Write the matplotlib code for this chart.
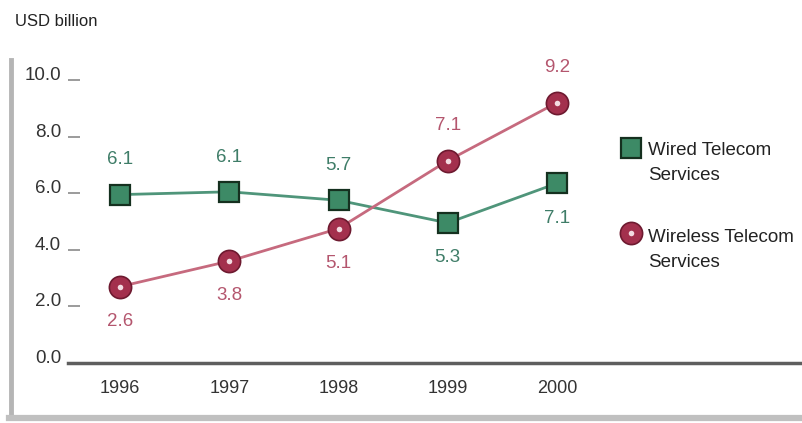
import matplotlib.pyplot as plt
from matplotlib.lines import Line2D

plt.rcParams['font.family'] = ['Liberation Sans', 'DejaVu Sans']

# Datos
years = ["1996", "1997", "1998", "1999", "2000"]
wired = [5.95, 6.05, 5.75, 4.95, 6.35]
wireless = [2.7, 3.6, 4.75, 7.15, 9.2]
wired_labels = ["6.1", "6.1", "5.7", "5.3", "7.1"]
wireless_labels = ["2.6", "3.8", "5.1", "7.1", "9.2"]
wired_above = [True, True, True, False, False]
wireless_above = [False, False, False, True, True]
yticks = [0, 2, 4, 6, 8, 10]

green = "#3d8a66"
green_line = "#4f957a"
green_text = "#3f7d68"
red = "#a3304d"
red_line = "#c66a7e"
red_text = "#b4566e"

W, H = 802, 423
fig = plt.figure(figsize=(W / 100, H / 100), dpi=100)
ax = fig.add_axes([68 / W, (H - 363) / H, (800 - 68) / W, (363 - 80) / H])

x = list(range(len(years)))

# Series
ax.plot(x, wired, color=green_line, lw=2, zorder=2)
ax.plot(x, wireless, color=red_line, lw=2, zorder=2)
ax.plot(x, wired, 's', ms=15, mfc=green, mec="#15301f", mew=1.6, zorder=3)
ax.plot(x, wireless, 'o', ms=16, mfc=red, mec="#6e1a30", mew=1.2, zorder=3)
ax.plot(x, wireless, 'o', ms=4, mfc="#f3dce2", mec="none", zorder=4)

for xi, v, lab, up in zip(x, wired, wired_labels, wired_above):
    ax.annotate(lab, (xi, v), xytext=(0, 25 if up else -25), textcoords="offset points",
                ha="center", va="center", fontsize=13.5, color=green_text)
for xi, v, lab, up in zip(x, wireless, wireless_labels, wireless_above):
    ax.annotate(lab, (xi, v), xytext=(0, 25 if up else -25), textcoords="offset points",
                ha="center", va="center", fontsize=13.5, color=red_text)

# Ejes
ax.set_xlim(-(120 - 68) / 109.25, 4 + (800 - 557) / 109.25)
ax.set_ylim(0, 10)
ax.set_xticks(x)
ax.set_xticklabels(years, fontsize=13, color="#333333")
ax.set_yticks(yticks)
ax.set_yticklabels([f"{t:.1f}" for t in yticks], fontsize=13.5, color="#333333")
for lbl in ax.get_yticklabels():
    lbl.set_va("baseline")
ax.tick_params(axis="x", length=0, pad=12)
ax.tick_params(axis="y", direction="in", length=8.5, width=1.2, color="#8a8a8a", pad=5)
for s in ["top", "right", "left"]:
    ax.spines[s].set_visible(False)
ax.spines["bottom"].set_color("#5e5e5e")
ax.spines["bottom"].set_linewidth(2.5)
ax.patch.set_alpha(0)

# Leyenda
ax.plot([0.769], [0.760], 's', ms=14, mfc=green, mec="#15301f", mew=1.6,
        transform=ax.transAxes, clip_on=False)
ax.plot([0.769], [0.459], 'o', ms=16, mfc=red, mec="#6e1a30", mew=1.2,
        transform=ax.transAxes, clip_on=False)
ax.plot([0.769], [0.459], 'o', ms=4, mfc="#f3dce2", mec="none",
        transform=ax.transAxes, clip_on=False)
ax.text(0.792, 0.706, "Wired Telecom\nServices", transform=ax.transAxes,
        fontsize=13.5, va="center", ha="left", color="#222222", linespacing=1.65)
ax.text(0.792, 0.399, "Wireless Telecom\nServices", transform=ax.transAxes,
        fontsize=13.5, va="center", ha="left", color="#222222", linespacing=1.65)

# Marco
fig.add_artist(Line2D([10.5 / W, 10.5 / W], [(H - 60) / H, (H - 418) / H],
                      color="#b5b5b5", lw=3.5))
fig.add_artist(Line2D([9 / W, 800 / W], [(H - 418) / H, (H - 418) / H],
                      color="#c0c0c0", lw=4.5))

fig.text(15 / W, (H - 22) / H, "USD billion", fontsize=12, va="center", ha="left",
         color="#222222")

plt.savefig("out.png", dpi=100)
